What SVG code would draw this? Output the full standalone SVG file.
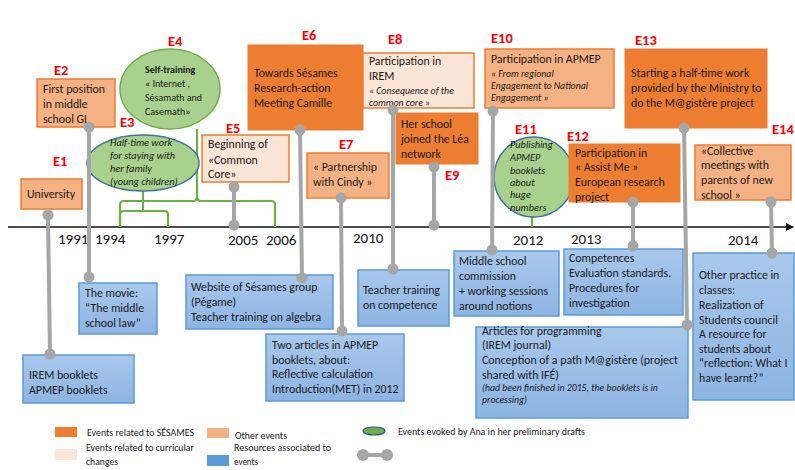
<svg xmlns="http://www.w3.org/2000/svg" width="795" height="470" viewBox="0 0 795 470">
<defs>
<style>
text{font-family:Carlito,Lato,"Liberation Sans",sans-serif;fill:#1a1a1a;font-size:11.8px}
.lbl{fill:#ff0000;font-weight:bold;font-size:14.5px}
.yr{font-size:15px;fill:#111}
.it{font-style:italic;font-size:9.8px}
.it3{font-style:italic;font-size:10.3px}
.sm{font-size:10px}
.lg{font-size:9.5px}
.ses{fill:#ed7d31;stroke:#ed7d31;stroke-width:1}
.oth{fill:#f4b183;stroke:#ed7d31;stroke-width:1.5}
.cur{fill:#fbe5d6;stroke:#ed7d31;stroke-width:1.5}
.res{fill:url(#blue);stroke:#5b9bd5;stroke-width:1.5}
.gl{fill:#a9d18e;stroke:#41719c;stroke-width:1.5}
.gg{fill:#a9d18e;stroke:#70ad47;stroke-width:1.5}
.br{fill:none;stroke:#70ad47;stroke-width:2.2}
.cl{stroke:#a6a6a6;stroke-width:4;fill:none}
.cd{fill:#a6a6a6}
</style>
<linearGradient id="blue" x1="0" y1="0" x2="0" y2="1">
<stop offset="0" stop-color="#a9c8ec"/>
<stop offset="1" stop-color="#8db4e2"/>
</linearGradient>
<marker id="arr" markerWidth="8" markerHeight="8" refX="7" refY="4" orient="auto" markerUnits="userSpaceOnUse">
<path d="M0,0 L8,4 L0,8 z" fill="#111"/>
</marker>
</defs>
<rect width="795" height="470" fill="#fff"/>

<g id="axis">
<line x1="8" y1="227" x2="793" y2="227" stroke="#111" stroke-width="1.5" marker-end="url(#arr)"/>
<text class="yr" x="58" y="244">1991</text>
<text class="yr" x="95" y="244">1994</text>
<text class="yr" x="154" y="244">1997</text>
<text class="yr" x="228" y="245">2005</text>
<text class="yr" x="266" y="245">2006</text>
<text class="yr" x="353" y="243">2010</text>
<text class="yr" x="513" y="245">2012</text>
<text class="yr" x="571" y="244">2013</text>
<text class="yr" x="728" y="245">2014</text>
</g>

<g id="brackets">
<path class="br" d="M120 227 V205 Q120 201 124 201 H193 Q197 201 197 196 V129"/>
<path class="br" d="M197 196 Q197 201 201 201 H271 Q275 201 275 205 V227"/>
<path class="br" d="M120 227 V215 Q120 211 124 211 H164 Q168 211 168 215 V227"/>
<path class="br" d="M143 211 V191"/>
<path class="br" d="M532 215 V227"/>
</g>

<g id="E1">
<text class="lbl" x="53" y="166">E1</text>
<rect class="oth" x="21" y="179" width="61" height="30" stroke="none"/>
<text x="27" y="198">University</text>
</g>

<g id="E2">
<text class="lbl" x="54" y="75">E2</text>
<rect class="oth" x="37" y="79" width="78" height="48"/>
<text x="43" y="93">First position</text>
<text x="43" y="108">in middle</text>
<text x="43" y="123">school GL</text>
</g>

<g id="E3">
<text class="lbl" x="120" y="127">E3</text>
<ellipse class="gl" cx="143" cy="163" rx="56" ry="28"/>
<text class="it3" x="110" y="146">Half-time work</text>
<text class="it3" x="110" y="159">for staying with</text>
<text class="it3" x="110" y="172">her family</text>
<text class="it3" x="110" y="185">(young children)</text>
</g>

<g id="E4">
<text class="lbl" x="168" y="46">E4</text>
<ellipse class="gg" cx="170" cy="89" rx="50" ry="40"/>
<text class="sm" x="145" y="73" font-weight="bold">Self-training</text>
<text class="sm" x="145" y="87">« Internet ,</text>
<text class="sm" x="145" y="101">Sésamath  and</text>
<text class="sm" x="145" y="115">Casemath»</text>
</g>

<g id="E5">
<text class="lbl" x="226" y="133">E5</text>
<rect class="cur" x="202" y="135" width="87" height="47"/>
<text x="208" y="148">Beginning of</text>
<text x="208" y="164">«Common</text>
<text x="208" y="178">Core»</text>
</g>

<g id="E6">
<text class="lbl" x="302" y="40">E6</text>
<rect class="ses" x="248" y="45" width="115" height="85"/>
<text x="254" y="77">Towards Sésames</text>
<text x="254" y="92">Research-action</text>
<text x="254" y="107">Meeting Camille</text>
</g>

<g id="E7">
<text class="lbl" x="339" y="149">E7</text>
<rect class="oth" x="307" y="153" width="82" height="45"/>
<text x="313" y="171">« Partnership</text>
<text x="313" y="186">with Cindy »</text>
</g>

<g id="E8">
<text class="lbl" x="388" y="44">E8</text>
<rect class="cur" x="363" y="53" width="111" height="55"/>
<text x="369" y="65">Participation in</text>
<text x="369" y="80">IREM</text>
<text class="it" x="369" y="94">« Consequence of the</text>
<text class="it" x="369" y="106">common core »</text>
</g>

<g id="E9">
<rect class="ses" x="396" y="113" width="82" height="51"/>
<text x="401" y="128">Her school</text>
<text x="401" y="143">joined the  Léa</text>
<text x="401" y="158">network</text>
<text class="lbl" x="445" y="180">E9</text>
</g>

<g id="E10">
<text class="lbl" x="491" y="43">E10</text>
<rect class="oth" x="485" y="49" width="129" height="59"/>
<text x="491" y="63">Participation in APMEP</text>
<text class="it" x="491" y="77">« From regional</text>
<text class="it" x="491" y="89">Engagement to National</text>
<text class="it" x="491" y="101">Engagement »</text>
</g>

<g id="E11">
<text class="lbl" x="515" y="134">E11</text>
<circle class="gl" cx="534" cy="177" r="40"/>
<text class="it3" x="510" y="148">Publishing</text>
<text class="it3" x="510" y="161">APMEP</text>
<text class="it3" x="510" y="174">booklets</text>
<text class="it3" x="510" y="186">about</text>
<text class="it3" x="510" y="198">huge</text>
<text class="it3" x="510" y="211">numbers</text>
</g>

<g id="E12">
<text class="lbl" x="567" y="141">E12</text>
<rect class="ses" x="569" y="144" width="111" height="58"/>
<text x="575" y="157">Participation in</text>
<text x="575" y="171">« Assist Me »</text>
<text x="575" y="186">European research</text>
<text x="575" y="201">project</text>
</g>

<g id="E13">
<text class="lbl" x="635" y="45">E13</text>
<rect class="ses" x="625" y="49" width="142" height="79"/>
<text x="631" y="77">Starting a half-time work</text>
<text x="631" y="92">provided by the Ministry to</text>
<text x="631" y="107">do the M@gistère project</text>
</g>

<g id="E14">
<text class="lbl" x="772" y="134">E14</text>
<rect class="oth" x="695" y="145" width="96" height="55"/>
<text x="701" y="155">«Collective</text>
<text x="701" y="169">meetings with</text>
<text x="701" y="184">parents of new</text>
<text x="701" y="199">school »</text>
</g>

<g id="R1">
<rect class="res" x="23" y="355" width="111" height="48"/>
<text x="29" y="379">IREM booklets</text>
<text x="29" y="394">APMEP booklets</text>
</g>
<g id="R2">
<rect class="res" x="79" y="283" width="78" height="51"/>
<text x="85" y="297">The movie:</text>
<text x="85" y="312">“The middle</text>
<text x="85" y="327">school law”</text>
</g>
<g id="R6">
<rect class="res" x="186" y="275" width="147" height="54"/>
<text x="191" y="291">Website of Sésames group</text>
<text x="191" y="306">(Pégame)</text>
<text x="191" y="321">Teacher training on algebra</text>
</g>
<g id="R7">
<rect class="res" x="266" y="334" width="138" height="67"/>
<text x="272" y="349">Two articles in APMEP</text>
<text x="272" y="364">booklets, about:</text>
<text x="272" y="378">Reflective calculation</text>
<text x="272" y="393">Introduction(MET) in 2012</text>
</g>
<g id="R8">
<rect class="res" x="358" y="270" width="91" height="56"/>
<text x="363" y="294">Teacher training</text>
<text x="363" y="309">on competence</text>
</g>
<g id="R10">
<rect class="res" x="454" y="251" width="105" height="65"/>
<text x="459" y="265">Middle school</text>
<text x="459" y="280">commission</text>
<text x="459" y="295">+ working sessions</text>
<text x="459" y="310">around notions</text>
</g>
<g id="R12">
<rect class="res" x="564" y="249" width="119" height="66"/>
<text x="569" y="262">Competences</text>
<text x="569" y="277">Evaluation standards.</text>
<text x="569" y="292">Procedures for</text>
<text x="569" y="307">investigation</text>
</g>
<g id="R13">
<rect class="res" x="476" y="327" width="212" height="91"/>
<text x="482" y="335">Articles for programming</text>
<text x="482" y="349">(IREM journal)</text>
<text x="482" y="364">Conception of a path M@gistère (project</text>
<text x="482" y="379">shared with IFÉ)</text>
<text class="it" x="482" y="391" font-size="9px">(had been finished in 2015, the booklets is in</text>
<text class="it" x="482" y="403" font-size="9px">processing)</text>
</g>
<g id="R14">
<rect class="res" x="693" y="253" width="101" height="147"/>
<text x="699" y="279">Other practice in</text>
<text x="699" y="294">classes:</text>
<text x="699" y="309">Realization of</text>
<text x="699" y="324">Students council</text>
<text x="699" y="338">A resource for</text>
<text x="699" y="353">students about</text>
<text x="699" y="367">“reflection: What I</text>
<text x="699" y="382">have learnt?”</text>
</g>

<g id="connectors">
<line class="cl" x1="48" y1="215" x2="50" y2="354"/><circle class="cd" cx="48" cy="215" r="5.5"/><circle class="cd" cx="50" cy="354" r="5.5"/>
<line class="cl" x1="89" y1="127" x2="89" y2="277"/><circle class="cd" cx="89" cy="127" r="5.5"/><circle class="cd" cx="89" cy="277" r="5.5"/>
<line class="cl" x1="234" y1="187" x2="234" y2="225"/><circle class="cd" cx="234" cy="187" r="5.5"/><circle class="cd" cx="234" cy="225" r="5.5"/>
<line class="cl" x1="300" y1="130" x2="302" y2="278"/><circle class="cd" cx="300" cy="130" r="5.5"/><circle class="cd" cx="302" cy="278" r="5.5"/>
<line class="cl" x1="341" y1="198" x2="342" y2="331"/><circle class="cd" cx="341" cy="198" r="5.5"/><circle class="cd" cx="342" cy="331" r="5.5"/>
<line class="cl" x1="393" y1="110" x2="393" y2="269"/><circle class="cd" cx="393" cy="110" r="5.5"/><circle class="cd" cx="393" cy="269" r="5.5"/>
<line class="cl" x1="434" y1="167" x2="434" y2="225"/><circle class="cd" cx="434" cy="167" r="5.5"/><circle class="cd" cx="434" cy="225" r="5.5"/>
<line class="cl" x1="493" y1="111" x2="492" y2="250"/><circle class="cd" cx="493" cy="111" r="5.5"/><circle class="cd" cx="492" cy="250" r="5.5"/>
<line class="cl" x1="633" y1="202" x2="633" y2="246"/><circle class="cd" cx="633" cy="202" r="5.5"/><circle class="cd" cx="633" cy="246" r="5.5"/>
<line class="cl" x1="684" y1="128" x2="687" y2="325"/><circle class="cd" cx="684" cy="128" r="5.5"/><circle class="cd" cx="687" cy="325" r="5.5"/>
<line class="cl" x1="771" y1="202" x2="772" y2="253"/><circle class="cd" cx="771" cy="202" r="5.5"/><circle class="cd" cx="772" cy="253" r="5.5"/>
</g>

<g id="legend">
<rect x="55" y="427" width="22" height="10" fill="#ed7d31"/>
<text class="lg" x="87" y="436" textLength="107" lengthAdjust="spacingAndGlyphs">Events related to SÉSAMES</text>
<rect x="55" y="449" width="22" height="11" fill="#fbe5d6"/>
<text class="lg" x="86" y="451" textLength="108" lengthAdjust="spacingAndGlyphs">Events related to curricular</text>
<text class="lg" x="86" y="465" textLength="32" lengthAdjust="spacingAndGlyphs">changes</text>
<rect x="207" y="428" width="22" height="10" fill="#f4b183"/>
<text class="lg" x="235" y="439" textLength="52" lengthAdjust="spacingAndGlyphs">Other events</text>
<rect x="207" y="455" width="22" height="11" fill="#5b9bd5"/>
<text class="lg" x="234" y="451" textLength="97" lengthAdjust="spacingAndGlyphs">Resources associated to</text>
<text class="lg" x="234" y="465" textLength="24" lengthAdjust="spacingAndGlyphs">events</text>
<ellipse cx="374" cy="431" rx="11" ry="4" fill="#70ad47" stroke="#2f5597" stroke-width="1.2"/>
<text class="lg" x="398" y="435" textLength="187" lengthAdjust="spacingAndGlyphs">Events evoked by Ana in her preliminary drafts</text>
<line class="cl" x1="363" y1="455" x2="387" y2="455"/>
<circle class="cd" cx="363" cy="455" r="6"/><circle class="cd" cx="387" cy="455" r="6"/>
</g>
</svg>
